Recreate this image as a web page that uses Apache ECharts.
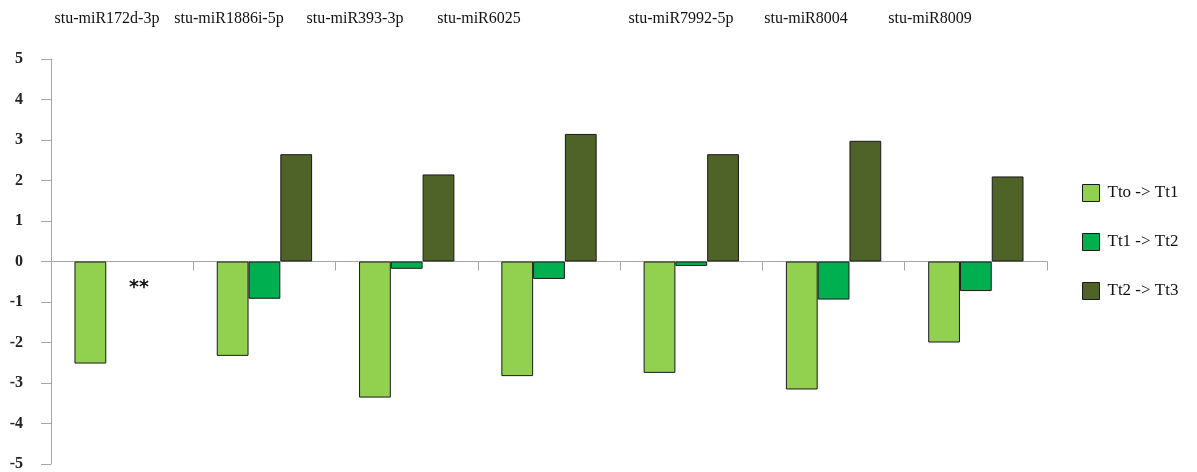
<!DOCTYPE html>
<html style="height: 100%">
<head>
<meta charset="utf-8">
<script type="text/javascript" src="https://cdn.jsdelivr.net/npm/echarts@6/dist/echarts.min.js"></script>
</head>
<body style="height: 100%; margin: 0; background: #ffffff">
<div id="container" style="width: 1197px; height: 472px"></div>
<script type="text/javascript">
// miRNA names shown above the plot
var MIRNAS = ['stu-miR172d-3p', 'stu-miR1886i-5p', 'stu-miR393-3p', 'stu-miR6025',
              'stu-miR7992-5p', 'stu-miR8004', 'stu-miR8009'];
// x centres of the names as they sit in the picture (not centred on the groups)
var NAME_X = [107, 229, 355, 479, 681, 806, 930];

var SERIES_NAMES = ['Tto -> Tt1', 'Tt1 -> Tt2', 'Tt2 -> Tt3'];
var TTO_TT1 = [-2.52, -2.33, -3.36, -2.83, -2.75, -3.16, -2.0];
var TT1_TT2 = [null, -0.92, -0.18, -0.43, -0.11, -0.94, -0.73];
var TT2_TT3 = [null, 2.65, 2.15, 3.15, 2.65, 2.98, 2.1];
var COLORS = ['#92d050', '#00b050', '#4f6228'];

var FONT = 'Liberation Serif';

var dom = document.getElementById('container');
var myChart = echarts.init(dom, null, {renderer: 'canvas'});

function bar(name, data, color) {
    return {
        name: name,
        type: 'bar',
        data: data,
        barGap: '0%',
        barCategoryGap: '33%',
        itemStyle: {
            color: color,
            borderColor: '#1a1a1a',
            borderWidth: 1
        },
        emphasis: {disabled: true}
    };
}

var graphics = [];
for (var i = 0; i < MIRNAS.length; i++) {
    graphics.push({
        type: 'text',
        x: NAME_X[i],
        y: 19,
        style: {
            text: MIRNAS[i],
            font: '16px "' + FONT + '"',
            fill: '#111',
            textAlign: 'center',
            textVerticalAlign: 'middle'
        }
    });
}
// significance mark for the first miRNA
graphics.push({
    type: 'text',
    x: 139,
    y: 288,
    style: {
        text: '**',
        font: 'bold 19px "DejaVu Sans"',
        fill: '#111',
        textAlign: 'center',
        textVerticalAlign: 'middle'
    }
});

var option = {
    backgroundColor: '#ffffff',
    animation: false,
    grid: {left: 51, right: 150, top: 59, bottom: 7, containLabel: false},
    legend: {
        orient: 'vertical',
        left: 1082,
        top: 184,
        padding: 0,
        itemWidth: 17,
        itemHeight: 17,
        itemGap: 31,
        icon: 'rect',
        data: SERIES_NAMES,
        itemStyle: {borderColor: '#1a1a1a', borderWidth: 1},
        textStyle: {fontFamily: FONT, fontSize: 17, color: '#111', padding: [0, 0, 0, 3]}
    },
    xAxis: {
        type: 'category',
        data: MIRNAS,
        axisLine: {onZero: true, lineStyle: {color: '#a6a6a6', width: 1}},
        axisTick: {show: true, inside: false, length: 9, lineStyle: {color: '#a6a6a6'}},
        axisLabel: {show: false},
        splitLine: {show: false}
    },
    yAxis: {
        type: 'value',
        min: -5,
        max: 5,
        interval: 1,
        axisLine: {show: true, lineStyle: {color: '#a6a6a6', width: 1}},
        axisTick: {show: true, length: 10, lineStyle: {color: '#a6a6a6'}},
        axisLabel: {margin: 28, fontFamily: FONT, fontSize: 16, fontWeight: 'bold', color: '#222'},
        splitLine: {show: false}
    },
    series: [
        bar(SERIES_NAMES[0], TTO_TT1, COLORS[0]),
        bar(SERIES_NAMES[1], TT1_TT2, COLORS[1]),
        bar(SERIES_NAMES[2], TT2_TT3, COLORS[2])
    ],
    graphic: graphics
};

myChart.setOption(option, true);
</script>
</body>
</html>
